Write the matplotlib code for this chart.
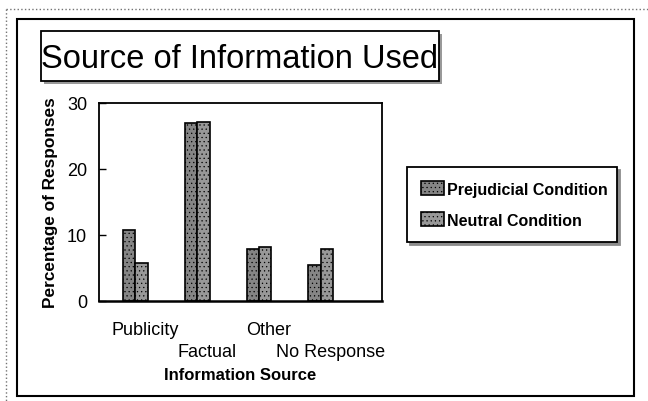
import matplotlib
matplotlib.use("Agg")
import matplotlib.pyplot as plt
from matplotlib.patches import Rectangle
from matplotlib.lines import Line2D
import numpy as np

# data
sources = ["Publicity", "Factual", "Other", "No Response"]
prejudicial = [10.7, 26.9, 7.9, 5.4]
neutral = [5.7, 27.1, 8.2, 7.9]
yticks = [0, 10, 20, 30]

W, H = 648, 402
plt.rcParams["font.family"] = ["Liberation Sans", "DejaVu Sans"]
plt.rcParams["hatch.linewidth"] = 0.4


def fx(x):
    return x / W


def fy(y):
    return 1 - y / H


fig = plt.figure(figsize=(W / 100, H / 100), dpi=100)
ax = fig.add_axes([fx(99), fy(302), fx(382) - fx(99), fy(104) - fy(302)])

x = np.arange(len(sources))
w = 0.2
ax.bar(x - w / 2, prejudicial, w, color="#858585", edgecolor="black",
       linewidth=1.2, hatch="....", label="Prejudicial Condition")
ax.bar(x + w / 2, neutral, w, color="#989898", edgecolor="black",
       linewidth=1.2, hatch="....", label="Neutral Condition")

ax.set_xlim(-0.59, 3.99)
ax.set_ylim(0, 30)
ax.set_yticks(yticks)
ax.tick_params(axis="y", direction="in", length=5, width=1, pad=8.5, labelsize=13)

# staggered category labels: upper row on major ticks, lower row on minor ticks
ax.set_xticks(x[::2] + 0.16)
ax.set_xticklabels(sources[::2], fontsize=13)
ax.set_xticks(x[1::2] + 0.16, minor=True)
ax.set_xticklabels(sources[1::2], minor=True, fontsize=13)
ax.tick_params(axis="x", which="major", length=0, pad=14.5)
ax.tick_params(axis="x", which="minor", length=0, pad=30)

for sp in ax.spines.values():
    sp.set_linewidth(1.3)
ax.spines["bottom"].set_linewidth(1.8)

ax.set_xlabel("Information Source", fontsize=12, fontweight="bold")
ax.xaxis.set_label_coords(0.5, -0.335)
ax.set_ylabel("Percentage of Responses", fontsize=12.4, fontweight="bold")
ax.yaxis.set_label_coords(-0.145, 0.5)

leg = ax.legend(loc="upper left", bbox_to_anchor=(fx(407), fy(168), fx(617) - fx(407), 0),
                bbox_transform=fig.transFigure, mode="expand", borderaxespad=0,
                fancybox=False, edgecolor="black", framealpha=1, borderpad=0.9,
                labelspacing=1.0, handlelength=1.4, handleheight=0.9, handletextpad=0.2,
                prop={"weight": "bold", "size": 11.5},
                shadow={"color": "0.55", "alpha": 1})
leg.get_frame().set_linewidth(1.3)

# title box with shadow
fig.add_artist(Rectangle((fx(44), fy(85)), fx(442) - fx(44), fy(35) - fy(85),
                         transform=fig.transFigure, facecolor="0.6", edgecolor="none", zorder=1))
fig.add_artist(Rectangle((fx(41), fy(82)), fx(439) - fx(41), fy(32) - fy(82),
                         transform=fig.transFigure, facecolor="white", edgecolor="black",
                         linewidth=1.3, zorder=2))
fig.text(fx(240), fy(68), "Source of Information Used", ha="center", va="baseline",
         fontsize=23.5, zorder=3)

# chart frame and page edges
fig.add_artist(Rectangle((fx(17), fy(397)), fx(634) - fx(17), fy(20) - fy(397),
                         transform=fig.transFigure, fill=False, edgecolor="black", linewidth=1.5))
fig.add_artist(Line2D([fx(6), 1], [fy(10), fy(10)], transform=fig.transFigure,
                      color="0.45", linewidth=1, linestyle=":"))
fig.add_artist(Line2D([fx(6), fx(6)], [fy(10), 0], transform=fig.transFigure,
                      color="0.45", linewidth=1, linestyle=":"))

fig.savefig("out.png", dpi=100)
